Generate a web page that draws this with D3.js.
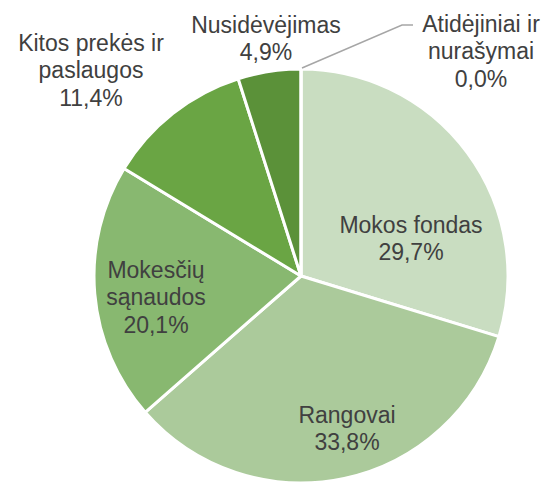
<!DOCTYPE html>
<html><head><meta charset="utf-8">
<script src="https://cdn.jsdelivr.net/npm/d3@7"></script>
<style>html,body{margin:0;padding:0;background:#fff;}svg{display:block;}</style>
</head><body>
<svg id="chart" width="543" height="485"></svg>
<script>
const categories = ["Mokos fondas", "Rangovai", "Mokesčių sąnaudos", "Kitos prekės ir paslaugos", "Nusidėvėjimas", "Atidėjiniai ir nurašymai"];
const values = [29.7, 33.8, 20.1, 11.4, 4.9, 0.0];
const labelLines = [["Mokos fondas"], ["Rangovai"], ["Mokesčių", "sąnaudos"], ["Kitos prekės ir", "paslaugos"], ["Nusidėvėjimas"], ["Atidėjiniai ir", "nurašymai"]];
const colors = ["#c9ddc1", "#abca9b", "#88b870", "#6aa544", "#5b9139", "#4a7a2c"];

const svg = d3.select("#chart");
const cx = 301, cy = 276, R = 207;
const g = svg.append("g").attr("transform", `translate(${cx},${cy})`);

const pie = d3.pie().sort(null).value(d => d.v);
const data = categories.map((c, i) => ({c, v: values[i], i}));
const arcs = pie(data);
const arc = d3.arc().innerRadius(0).outerRadius(R);

g.selectAll("path").data(arcs).enter().append("path")
  .attr("d", arc)
  .attr("fill", d => colors[d.data.i])
  .attr("stroke", "#fff").attr("stroke-width", 3).attr("stroke-linejoin", "round");

// label anchor positions (center x, first baseline y) relative to svg
const labelPos = [[411, 233], [347, 423], [156, 278], [91, 51], [266, 33], [481, 32]];
const fmt = v => v.toFixed(1).replace(".", ",") + "%";
const lh = 27.3;
arcs.forEach(a => {
  const i = a.data.i;
  const lines = labelLines[i].concat([fmt(values[i])]);
  const t = svg.append("text")
    .attr("text-anchor", "middle")
    .attr("font-family", "Liberation Sans, Arial, sans-serif")
    .attr("font-size", 23)
    .attr("fill", "#404040");
  lines.forEach((ln, j) => {
    t.append("tspan").attr("x", labelPos[i][0]).attr("y", labelPos[i][1] + j * lh).text(ln);
  });
});

// leader line for the zero slice
const zero = arcs[5];
const pt = d3.pointRadial(zero.startAngle, R);
svg.append("polyline")
  .attr("points", [[cx + pt[0] + 1, cy + pt[1] - 1], [402, 25], [413, 25]].map(p => p.join(",")).join(" "))
  .attr("fill", "none").attr("stroke", "#a6a6a6").attr("stroke-width", 1.5);
</script>
</body></html>
